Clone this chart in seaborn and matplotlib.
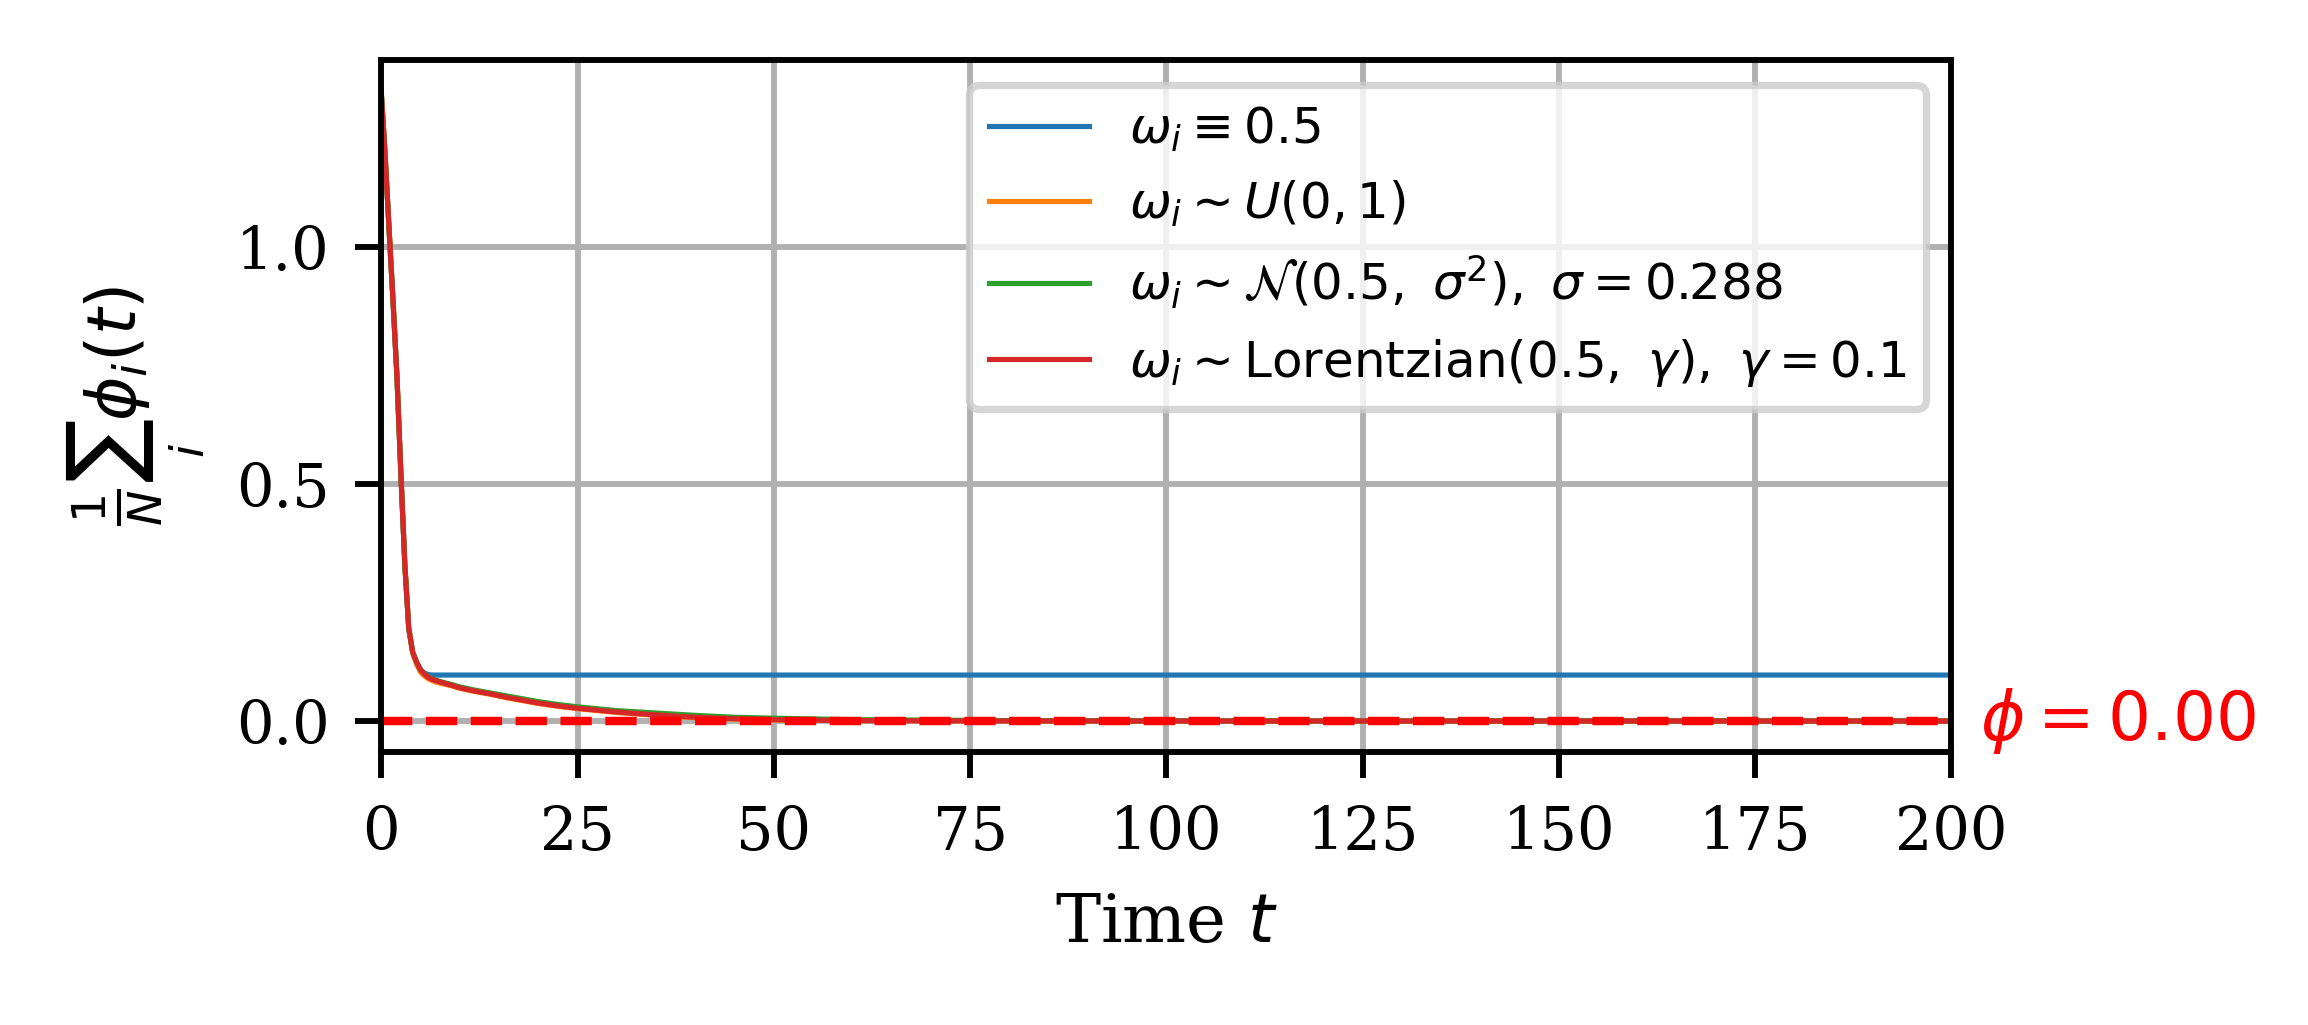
import pandas as pd
import matplotlib
matplotlib.use("Agg")
import matplotlib.pyplot as plt
import seaborn as sns

# time grid (shared by all four runs)
time_t = [0, 0.5, 1, 1.5, 2, 2.5, 3, 3.5, 4, 4.5, 5, 5.5, 6, 6.5, 7, 8, 9, 10,
          12, 14, 16, 18, 20, 22.5, 25, 27.5, 30, 35, 40, 45, 50, 60, 70, 80,
          100, 125, 150, 175, 200]

# mean phase value per frequency distribution
phi_const = [1.325, 1.19, 1.035, 0.885, 0.725, 0.52, 0.33, 0.195, 0.145, 0.124,
             0.108, 0.101, 0.098, 0.097, 0.097, 0.097, 0.097, 0.097,
             0.097, 0.097, 0.097, 0.097, 0.097, 0.097, 0.097, 0.097, 0.097,
             0.097, 0.097, 0.097, 0.097, 0.097, 0.097, 0.097,
             0.097, 0.097, 0.097, 0.097, 0.097]
phi_uniform = [1.325, 1.19, 1.035, 0.885, 0.725, 0.52, 0.33, 0.195, 0.143, 0.120,
               0.103, 0.095, 0.089, 0.085, 0.082, 0.078, 0.074, 0.069,
               0.062, 0.056, 0.049, 0.043, 0.037, 0.031, 0.026, 0.022, 0.018,
               0.012, 0.007, 0.004, 0.002, 0.001, 0.0004, 0.0002,
               0.0, 0.0, 0.0, 0.0, 0.0]
phi_normal = [1.325, 1.19, 1.035, 0.885, 0.725, 0.52, 0.33, 0.195, 0.145, 0.124,
              0.108, 0.100, 0.093, 0.089, 0.086, 0.081, 0.077, 0.072,
              0.065, 0.059, 0.053, 0.047, 0.041, 0.035, 0.030, 0.026, 0.022,
              0.017, 0.012, 0.008, 0.006, 0.003, 0.002, 0.001,
              0.0005, 0.0003, 0.0003, 0.0003, 0.0003]
phi_lorentz = [1.325, 1.19, 1.035, 0.885, 0.725, 0.52, 0.33, 0.195, 0.145, 0.124,
               0.108, 0.099, 0.092, 0.088, 0.085, 0.080, 0.075, 0.070,
               0.063, 0.057, 0.050, 0.044, 0.038, 0.032, 0.027, 0.023, 0.019,
               0.013, 0.008, 0.005, 0.003, 0.001, 0.0005, 0.0002,
               0.0, 0.0, 0.0, 0.0, 0.0]

labels = [
    r'$\omega_i \equiv 0.5$',
    r'$\omega_i \sim U(0,1)$',
    r'$\omega_i \sim \mathcal{N}(0.5,\ \sigma^2),\ \sigma=0.288$',
    r'$\omega_i \sim \mathrm{Lorentzian}(0.5,\ \gamma),\ \gamma=0.1$',
]
series = [phi_const, phi_uniform, phi_normal, phi_lorentz]
phi_star = 0.0

rows = []
for lab, vals in zip(labels, series):
    for t, v in zip(time_t, vals):
        rows.append({'t': t, 'phi': v, 'dist': lab})
df = pd.DataFrame(rows)

plt.rcParams['font.family'] = ['DejaVu Serif']

fig = plt.figure(figsize=(2308 / 530, 1025 / 530), dpi=530)
ax = fig.add_axes([0.1652, 0.2660, 0.6803, 0.6755])

sns.lineplot(
    data=df, x='t', y='phi', hue='dist', hue_order=labels,
    palette=sns.color_palette('tab10', 4), estimator=None, sort=False,
    linewidth=0.7, ax=ax
)

ax.axhline(phi_star, color='red', linestyle='--', linewidth=1.15)
ax.text(1.018, phi_star, r'$\phi = %.2f$' % phi_star, color='red',
        transform=ax.get_yaxis_transform(), ha='left', va='center', fontsize=9.2)

ax.set_xlim(0, 200)
ax.set_ylim(-0.066, 1.394)
ax.grid(True)
ax.tick_params(labelsize=8)
ax.set_xlabel('Time $t$', fontsize=9.2)
ax.set_ylabel(r'$\frac{1}{N}\sum_i \phi_i(t)$', fontsize=9.2)

handles, labs = ax.get_legend_handles_labels()
ax.legend(handles, labs, loc='upper right', fontsize=6.8, handlelength=2.0)

fig.savefig('out.png', dpi=530)
